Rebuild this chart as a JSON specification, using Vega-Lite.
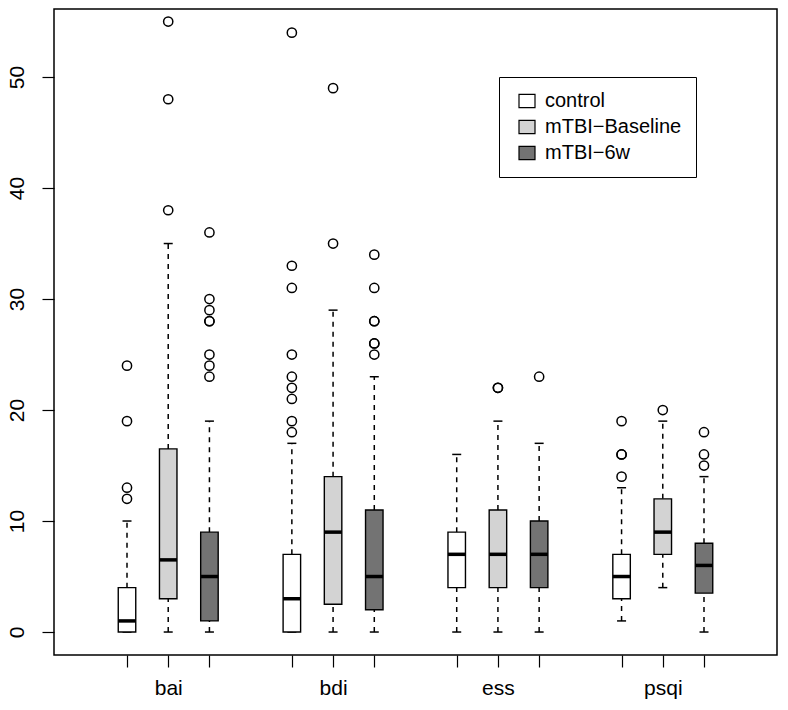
{
  "$schema": "https://vega.github.io/schema/vega-lite/v6.json",
  "width": 723,
  "height": 646,
  "autosize": {"type": "none"},
  "padding": {"left": 54, "top": 9, "right": 11, "bottom": 55},
  "background": "white",
  "config": {
    "view": {"stroke": "black", "strokeWidth": 1.5},
    "font": "Liberation Sans",
    "axis": {"grid": false, "domain": false, "tickColor": "black", "tickWidth": 1.2, "labelColor": "black", "labelFont": "Liberation Sans", "labelFontSize": 21, "title": null}
  },
  "datasets": {
    "boxes": [
      {"group": "bai", "cond": "control", "pos": 1, "lo": 0, "q1": 0, "med": 1, "q3": 4, "hi": 10},
      {"group": "bai", "cond": "mTBI−Baseline", "pos": 2, "lo": 0, "q1": 3, "med": 6.5, "q3": 16.5, "hi": 35},
      {"group": "bai", "cond": "mTBI−6w", "pos": 3, "lo": 0, "q1": 1, "med": 5, "q3": 9, "hi": 19},
      {"group": "bdi", "cond": "control", "pos": 5, "lo": 0, "q1": 0, "med": 3, "q3": 7, "hi": 17},
      {"group": "bdi", "cond": "mTBI−Baseline", "pos": 6, "lo": 0, "q1": 2.5, "med": 9, "q3": 14, "hi": 29},
      {"group": "bdi", "cond": "mTBI−6w", "pos": 7, "lo": 0, "q1": 2, "med": 5, "q3": 11, "hi": 23},
      {"group": "ess", "cond": "control", "pos": 9, "lo": 0, "q1": 4, "med": 7, "q3": 9, "hi": 16},
      {"group": "ess", "cond": "mTBI−Baseline", "pos": 10, "lo": 0, "q1": 4, "med": 7, "q3": 11, "hi": 19},
      {"group": "ess", "cond": "mTBI−6w", "pos": 11, "lo": 0, "q1": 4, "med": 7, "q3": 10, "hi": 17},
      {"group": "psqi", "cond": "control", "pos": 13, "lo": 1, "q1": 3, "med": 5, "q3": 7, "hi": 13},
      {"group": "psqi", "cond": "mTBI−Baseline", "pos": 14, "lo": 4, "q1": 7, "med": 9, "q3": 12, "hi": 19},
      {"group": "psqi", "cond": "mTBI−6w", "pos": 15, "lo": 0, "q1": 3.5, "med": 6, "q3": 8, "hi": 14}
    ],
    "outliers": [
      {"pos": 1, "value": 12}, {"pos": 1, "value": 13}, {"pos": 1, "value": 19}, {"pos": 1, "value": 24},
      {"pos": 2, "value": 38}, {"pos": 2, "value": 48}, {"pos": 2, "value": 55},
      {"pos": 3, "value": 23}, {"pos": 3, "value": 24}, {"pos": 3, "value": 25}, {"pos": 3, "value": 28}, {"pos": 3, "value": 28}, {"pos": 3, "value": 29}, {"pos": 3, "value": 30}, {"pos": 3, "value": 36},
      {"pos": 5, "value": 18}, {"pos": 5, "value": 19}, {"pos": 5, "value": 21}, {"pos": 5, "value": 22}, {"pos": 5, "value": 23}, {"pos": 5, "value": 25}, {"pos": 5, "value": 31}, {"pos": 5, "value": 33}, {"pos": 5, "value": 54},
      {"pos": 6, "value": 35}, {"pos": 6, "value": 49},
      {"pos": 7, "value": 25}, {"pos": 7, "value": 26}, {"pos": 7, "value": 26}, {"pos": 7, "value": 28}, {"pos": 7, "value": 28}, {"pos": 7, "value": 31}, {"pos": 7, "value": 34},
      {"pos": 10, "value": 22}, {"pos": 10, "value": 22},
      {"pos": 11, "value": 23},
      {"pos": 13, "value": 14}, {"pos": 13, "value": 16}, {"pos": 13, "value": 16}, {"pos": 13, "value": 19},
      {"pos": 14, "value": 20},
      {"pos": 15, "value": 15}, {"pos": 15, "value": 16}, {"pos": 15, "value": 18}
    ]
  },
  "layer": [
    {
      "data": {"name": "boxes"},
      "mark": {"type": "rule", "color": "black", "strokeWidth": 1.5, "strokeDash": [5, 5]},
      "encoding": {
        "x": {"field": "pos", "type": "quantitative", "scale": {"domain": [-0.65, 16.65], "nice": false, "zero": false},
          "axis": {"values": [1, 2, 3, 5, 6, 7, 9, 10, 11, 13, 14, 15], "tickSize": 12, "labelPadding": 27, "labelBaseline": "alphabetic", "labelOverlap": false, "labelFlush": false,
            "labelExpr": "datum.value == 2 ? 'bai' : datum.value == 6 ? 'bdi' : datum.value == 10 ? 'ess' : datum.value == 14 ? 'psqi' : ''"}},
        "y": {"field": "lo", "type": "quantitative", "scale": {"domain": [-2.07, 56.13], "nice": false, "zero": false},
          "axis": {"values": [0, 10, 20, 30, 40, 50], "tickSize": 12, "labelAngle": -90, "labelAlign": "center", "labelBaseline": "alphabetic", "labelPadding": 19}},
        "y2": {"field": "q1"}
      }
    },
    {
      "data": {"name": "boxes"},
      "mark": {"type": "rule", "color": "black", "strokeWidth": 1.5, "strokeDash": [5, 5]},
      "encoding": {
        "x": {"field": "pos", "type": "quantitative"},
        "y": {"field": "q3", "type": "quantitative"},
        "y2": {"field": "hi"}
      }
    },
    {
      "data": {"name": "boxes"},
      "mark": {"type": "tick", "orient": "horizontal", "color": "black", "size": 9, "thickness": 1.5, "opacity": 1},
      "encoding": {
        "x": {"field": "pos", "type": "quantitative"},
        "y": {"field": "lo", "type": "quantitative"}
      }
    },
    {
      "data": {"name": "boxes"},
      "mark": {"type": "tick", "orient": "horizontal", "color": "black", "size": 9, "thickness": 1.5, "opacity": 1},
      "encoding": {
        "x": {"field": "pos", "type": "quantitative"},
        "y": {"field": "hi", "type": "quantitative"}
      }
    },
    {
      "data": {"name": "boxes"},
      "mark": {"type": "bar", "width": 17.5, "stroke": "black", "strokeWidth": 1.4, "opacity": 1},
      "encoding": {
        "x": {"field": "pos", "type": "quantitative"},
        "y": {"field": "q1", "type": "quantitative"},
        "y2": {"field": "q3"},
        "fill": {"field": "cond", "type": "nominal",
          "scale": {"domain": ["control", "mTBI−Baseline", "mTBI−6w"], "range": ["#ffffff", "#d3d3d3", "#737373"]},
          "legend": {"title": null, "orient": "none", "legendX": 445, "legendY": 68, "direction": "vertical",
            "strokeColor": "black", "fillColor": "white", "padding": 14, "symbolOffset": 4,
            "symbolType": "M-1,-0.82H1V0.82H-1Z", "symbolSize": 256, "symbolStrokeColor": "black", "symbolStrokeWidth": 1.2,
            "labelFont": "Liberation Sans", "labelFontSize": 20, "labelColor": "black", "labelOffset": 8, "rowPadding": 6}}
      }
    },
    {
      "data": {"name": "boxes"},
      "mark": {"type": "tick", "orient": "horizontal", "color": "black", "size": 17.5, "thickness": 3.5, "opacity": 1},
      "encoding": {
        "x": {"field": "pos", "type": "quantitative"},
        "y": {"field": "med", "type": "quantitative"}
      }
    },
    {
      "data": {"name": "outliers"},
      "mark": {"type": "point", "shape": "circle", "filled": false, "color": "black", "size": 85, "strokeWidth": 1.5, "opacity": 1},
      "encoding": {
        "x": {"field": "pos", "type": "quantitative"},
        "y": {"field": "value", "type": "quantitative"}
      }
    }
  ]
}
